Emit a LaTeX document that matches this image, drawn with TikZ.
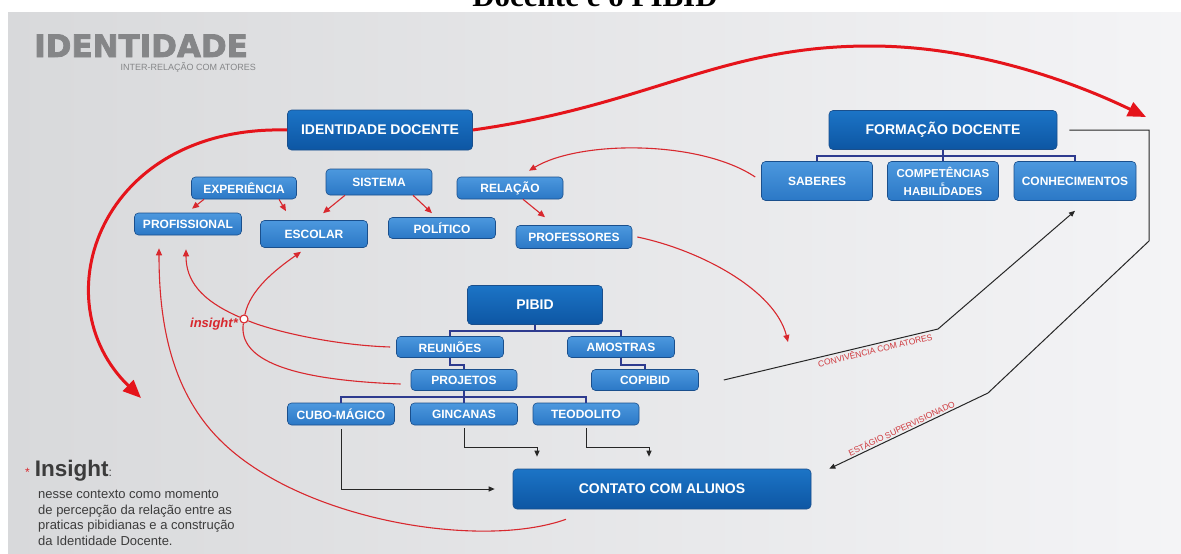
\documentclass[tikz,border=0pt]{standalone}
\usepackage{fontspec}
\setmainfont{Liberation Sans}
\newfontfamily\titleserif{Liberation Serif}
\newfontfamily\brandfont{DejaVu Sans}[BoldFeatures={FakeBold=2.5}]
\usetikzlibrary{arrows.meta}

\definecolor{mainTop}{HTML}{1C74C6}
\definecolor{mainBot}{HTML}{0D56A3}
\definecolor{subTop}{HTML}{4C98DE}
\definecolor{subBot}{HTML}{2B78C6}
\definecolor{boxedge}{HTML}{1A4F8C}
\definecolor{treeblue}{HTML}{2E3B8F}
\definecolor{bigred}{HTML}{E5141B}
\definecolor{linered}{HTML}{D8282E}
\definecolor{labelred}{HTML}{CF3A3F}
\definecolor{headgray}{HTML}{858688}
\definecolor{notegray}{HTML}{3C3C3C}
\definecolor{panelLeft}{HTML}{D8D9DB}
\definecolor{panelRight}{HTML}{F4F4F6}

\begin{document}
\begin{tikzpicture}[x=1pt,y=-1pt]
			\tikzstyle{mainbox} = [rectangle, rounded corners=4pt, draw=boxedge, line width=0.6pt, top color=mainTop, bottom color=mainBot, text=white, font=\bfseries\fontsize{14}{14}\selectfont, inner sep=0pt, align=center]
			\tikzstyle{subbox}  = [mainbox, top color=subTop, bottom color=subBot, font=\bfseries\fontsize{12}{12}\selectfont]
			\tikzstyle{tree}    = [draw=treeblue, line width=1.8pt]
			\tikzstyle{thinred} = [draw=linered, line width=1.1pt, -{Triangle[length=7pt,width=6pt]}]
			\tikzstyle{bigarrow} = [draw=bigred, line width=3pt, -{Triangle[length=18pt,width=15pt]}]
			\tikzstyle{conn}    = [draw=black!85, line width=1pt, -{Triangle[length=6pt,width=5pt]}]
			\tikzstyle{actor}   = [font=\fontsize{8.5}{8.5}\selectfont, text=labelred, inner sep=1.5pt]

			\useasboundingbox (0,0) rectangle (1181,554);
			\fill[white] (0,0) rectangle (1181,554);
			\fill[left color=panelLeft, right color=panelRight] (8,12) rectangle (1181,554);

			\node[font=\titleserif\bfseries\fontsize{31}{31}\selectfont, anchor=base] (title) at (595,6) {Docente e o PIBID};
			\node[font=\brandfont\bfseries\fontsize{31}{31}\selectfont, text=headgray, anchor=base west, inner sep=0pt] (brand) at (34,57) {IDENTIDADE};
			\node[font=\fontsize{9}{9}\selectfont, text=headgray, anchor=base east, inner sep=0pt] (brandsub) at (256,70) {INTER-RELAÇÃO COM ATORES};

			\foreach \name/\x/\y/\w/\h/\lbl in {iddoc/380/130/185/40/IDENTIDADE DOCENTE, formdoc/943/130/228/39/FORMAÇÃO DOCENTE, pibid/535/305/135/39/PIBID, contato/662/489/298/40/CONTATO COM ALUNOS}
				\node[mainbox, minimum width=\w, minimum height=\h] (\name) at (\x,\y) {\lbl};

			\foreach \name/\x/\y/\w/\h/\lbl in {saberes/817/181/111/39/SABERES, conhec/1075/181/122/39/CONHECIMENTOS, experiencia/244/188/105/22/EXPERIÊNCIA, sistema/379/182/106/26/SISTEMA, relacao/510/188/106/22/RELAÇÃO, profissional/188/224/107/22/PROFISSIONAL, escolar/314/234/107/27/ESCOLAR, politico/442/228/107/21/POLÍTICO, professores/574/237/116/23/PROFESSORES, reunioes/450/347/107/21/REUNIÕES, amostras/621/347/107/21/AMOSTRAS, projetos/464/380/106/21/PROJETOS, copibid/645/380/107/21/COPIBID, cubo/341/414/107/22/CUBO-MÁGICO, gincanas/464/414/107/22/GINCANAS, teodolito/586/414/106/22/TEODOLITO}
				\node[subbox, minimum width=\w, minimum height=\h] (\name) at (\x,\y) {\lbl};

			\node[subbox, minimum width=111, minimum height=39, font=\bfseries\fontsize{11.5}{9}\selectfont] (compet) at (943,181) {COMPETÊNCIAS\\{\fontsize{5}{5}\selectfont E}\\HABILIDADES};

			% tree lines
			\draw[tree] (formdoc.south) -- (compet.north);
			\foreach \to in {saberes, conhec}
				\draw[tree] (formdoc.south) -- ++(0,6) -| (\to.north);
			\foreach \to in {reunioes, amostras}
				\draw[tree] (pibid.south) -- ++(0,6) -| (\to.north);
			\draw[tree] (reunioes.south) -- ++(0,7) -| (projetos.north);
			\draw[tree] (amostras.south) -- ++(0,7) -| (copibid.north);
			\draw[tree] (projetos.south) -- (gincanas.north);
			\foreach \to in {cubo, teodolito}
				\draw[tree] (projetos.south) -- ++(0,6) -| (\to.north);

			% small red arrows
			\draw[thinred] ([xshift=-40]experiencia.south) -- ([xshift=4,yshift=4]profissional.north);
			\draw[thinred] ([xshift=35]experiencia.south) -- ([xshift=-28,yshift=9]escolar.north);
			\draw[thinred] ([xshift=-34]sistema.south) -- ([xshift=9,yshift=7]escolar.north);
			\draw[thinred] ([xshift=34]sistema.south) -- ([xshift=-10,yshift=4]politico.north);
			\draw[thinred] ([xshift=13]relacao.south) -- ([xshift=-29,yshift=8]professores.north);
			\draw[thinred] ([xshift=-6,yshift=4]saberes.west) .. controls (700,140) and (580,140) .. ([xshift=19,yshift=6]relacao.north);
			\coordinate (proftip) at (788,342);
			\draw[thinred] ([xshift=5]professores.east) .. controls (700,250) and (775,290) .. (proftip);

			% insight
			\node[circle, draw=linered, line width=1.1pt, fill=white, minimum size=8pt, inner sep=0pt] (insight) at (244,319) {};
			\node[font=\bfseries\itshape\fontsize{13}{13}\selectfont, text=linered, anchor=east, inner sep=0pt] (insightlbl) at (238,324) {insight*};
			\draw[thinred] ([xshift=-6]reunioes.west) .. controls (330,345) and (270,330) .. (insight) .. controls (200,300) and (186,280) .. ([xshift=-2,yshift=-14]profissional.south);
			\draw[thinred] ([xshift=-10,yshift=-4]projetos.west) .. controls (290,380) and (238,360) .. (insight) .. controls (250,290) and (275,270) .. ([xshift=-13,yshift=-4]escolar.south);
			\draw[thinred] ([xshift=-96,yshift=-10]contato.south) .. controls (480,550) and (300,520) .. (220,440) .. controls (170,390) and (159,320) .. ([xshift=-29,yshift=-13]profissional.south);

			% big red arrows
			\coordinate (toptip) at (1146,117);
			\coordinate (lefttip) at (141,398);
			\draw[bigarrow] (iddoc.east) .. controls (650,105) and (720,46) .. (870,46) .. controls (980,46) and (1080,85) .. (toptip);
			\draw[bigarrow] (iddoc.west) .. controls (100,125) and (40,300) .. (lefttip);

			% black connectors
			\draw[conn] ([yshift=-4]cubo.south) |- ([xshift=-18]contato.west);
			\draw[conn] ([yshift=-3]gincanas.south) -- ++(0,19) -| ([xshift=-125,yshift=12]contato.north);
			\draw[conn] ([yshift=-3]teodolito.south) -- ++(0,19) -| ([xshift=-13,yshift=12]contato.north);
			\coordinate (convbend) at (938,329);
			\coordinate (estbend) at (1149,241);
			\coordinate (estknee) at (988,393);
			\draw[conn] ([xshift=25]copibid.east) -- node[actor, sloped, below, pos=0.7] {CONVIVÊNCIA COM ATORES} (convbend) -- ([yshift=-10]conhec.south);
			\draw[conn] ([xshift=12]formdoc.east) -| (estbend) -- (estknee) -- node[actor, sloped, above, pos=0.53] {ESTÁGIO SUPERVISIONADO} ([xshift=18]contato.north east);

			% note
			\node[anchor=base west, inner sep=0pt, text=notegray] (notehead) at (25,476) {{\color{linered}\fontsize{12}{12}\selectfont *}\hspace{5pt}{\bfseries\fontsize{22.5}{22.5}\selectfont Insight}{\fontsize{12}{12}\selectfont :}};
			\node[anchor=north west, inner sep=0pt, text=notegray, align=left, font=\fontsize{13}{15.6}\selectfont] (notetext) at (38,490) {nesse contexto como momento\\de percepção da relação entre as\\praticas pibidianas e a construção\\da Identidade Docente.};
\end{tikzpicture}
\end{document}
